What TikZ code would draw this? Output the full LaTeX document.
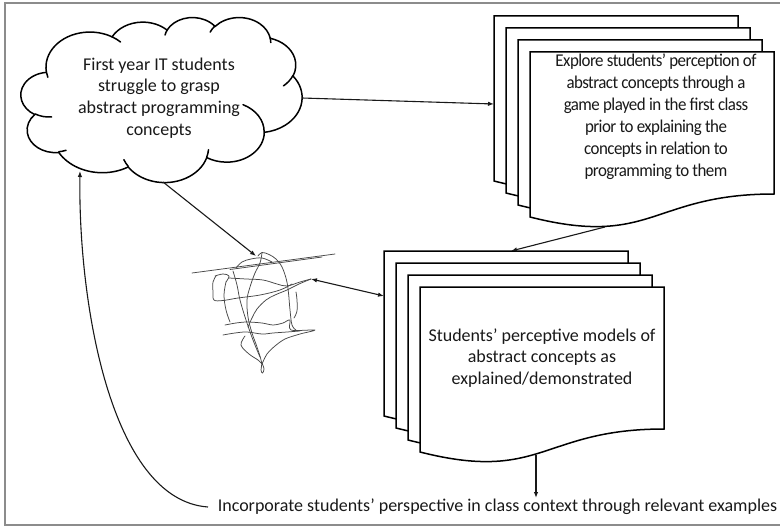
\documentclass[tikz,border=0pt]{standalone}
\usepackage{fontspec}
\setmainfont{Carlito}
\usetikzlibrary{arrows.meta}

% Cloud outline built from elliptic arcs given in tenths of a 43200-unit frame
% (stAng/swAng are angles seen from the ellipse centre, converted to parametric ones).
\newcommand\cldsx{0.065046}
\newcommand\cldsy{0.038194}
\newcommand\cldarc[6]{% #1 start point, #2 name of end point, #3 wR, #4 hR, #5 stAng, #6 swAng
  \pgfmathsetmacro\cldA{atan2((#3)*sin(#5),(#4)*cos(#5))}%
  \pgfmathsetmacro\cldB{atan2((#3)*sin((#5)+(#6)),(#4)*cos((#5)+(#6)))}%
  \pgfmathsetmacro\cldD{mod((\cldB)-(\cldA)+720,360)}%
  \pgfmathsetmacro\cldS{-(\cldA)}%
  \pgfmathsetmacro\cldN{-(\cldD)}%
  \pgfmathsetmacro\cldRX{(#3)*\cldsx}%
  \pgfmathsetmacro\cldRY{(#4)*\cldsy}%
  \draw[cloudline] #1 arc[start angle=\cldS, delta angle=\cldN, x radius=\cldRX pt, y radius=\cldRY pt] coordinate (#2);%
}
% one page of a stacked document: left, top
\newcommand\docpage[2]{%
  \draw[pageline] (#1,#2) -- (#1+244,#2) -- (#1+244,#2+142)
    .. controls (#1+122,#2+142) and (#1+122,#2+196) .. (#1,#2+165) -- cycle;
}

\begin{document}
\begin{tikzpicture}[x=1pt,y=-1pt,
  cloudline/.style={draw=black, line width=1.5pt, line cap=round, line join=round},
  pageline/.style={draw=black, fill=white, line width=1.5pt, line join=miter},
  txt/.style={font=\fontsize{18}{21.7}\selectfont, align=center, inner sep=0pt, text=black!90},
  tighttxt/.style={txt, font=\fontsize{18}{22}\selectfont\addfontfeatures{FakeStretch=0.94,LetterSpace=-3}},
  conn/.style={draw=black!90, line width=1.1pt, -{Latex[length=6pt,width=4.5pt]}},
  conntwo/.style={draw=black!90, line width=1.1pt, {Latex[length=6pt,width=4.5pt]}-{Latex[length=6pt,width=4.5pt]}},
  scribble/.style={draw=black!72, line width=0.75pt, line join=round, line cap=round},
  framegray/.style={draw=black!45, line width=1.2pt}]

\useasboundingbox (0,0) rectangle (780,527);
\draw[framegray] (5,3) rectangle (790,525);

% ---- cloud ----
\coordinate (c0) at (21+390*\cldsx, 17+1437*\cldsy);
\cldarc{(c0)}{c1}{675.3}{919.0}{-190.487}{123.781}
\cldarc{(c1)}{c2}{533.3}{726.7}{-144.102}{89.945}
\cldarc{(c2)}{c3}{436.5}{594.5}{-145.808}{99.723}
\cldarc{(c3)}{c4}{485.7}{659.5}{-130.986}{117.242}
\cldarc{(c4)}{c5}{533.3}{727.3}{-78.709}{109.027}
\cldarc{(c5)}{c6}{677.5}{922.0}{-46.267}{130.269}
\cldarc{(c6)}{c7}{578.5}{786.7}{0.625}{114.033}
\cldarc{(c7)}{c8}{675.2}{921.5}{22.452}{115.173}
\cldarc{(c8)}{c9}{772.0}{1054.3}{66.243}{75.711}
\cldarc{(c9)}{c10}{436.0}{591.8}{-274.942}{146.736}
\cldarc{(c10)}{c11}{434.5}{594.5}{-246.829}{152.519}
% inner creases of the cloud
\cldarc{(21+469.3*\cldsx, 17+2617.7*\cldsy)}{ka}{434.5}{594.5}{86.742}{26.430}
\cldarc{(21+692.8*\cldsx, 17+3489.9*\cldsy)}{kb}{436.0}{591.8}{73.610}{11.447}
\cldarc{(21+1647.8*\cldsx, 17+3909.0*\cldsy)}{kc}{675.2}{921.5}{137.624}{14.081}
\cldarc{(21+2882.7*\cldsx, 17+3475.1*\cldsy)}{kd}{675.2}{921.5}{6.453}{15.998}
\cldarc{(21+3412.9*\cldsx, 17+2295.4*\cldsy)}{ke}{578.5}{786.7}{-70.292}{70.917}
\cldarc{(21+4179.8*\cldsx, 17+1535.4*\cldsy)}{kf}{533.3}{727.3}{30.318}{27.752}
\cldarc{(21+3832.4*\cldsx, 17+542.6*\cldsy)}{kg}{485.7}{659.5}{-13.744}{14.859}
\cldarc{(21+2907.8*\cldsx, 17+395.2*\cldsy)}{kh}{485.7}{659.5}{-149.181}{18.195}
\cldarc{(21+2214.1*\cldsx, 17+472.0*\cldsy)}{ki}{436.5}{594.5}{-163.494}{17.686}
\cldarc{(21+1400.0*\cldsx, 17+519.2*\cldsy)}{kj}{675.3}{919.0}{-66.707}{12.319}
\cldarc{(21+412.7*\cldsx, 17+1578.9*\cldsy)}{kk}{675.3}{919.0}{157.654}{11.858}

\node[txt] (cloudtext) at (159,98)
  {First year IT students\\struggle to grasp\\abstract programming\\concepts};

% ---- upper document stack ----
\docpage{494}{16}
\docpage{506}{28}
\docpage{518}{40}
\docpage{530}{52}
\node[tighttxt] (exploretext) at (656,117)
  {Explore students’ perception of\\abstract concepts through a\\game played in the first class\\prior to explaining the\\concepts in relation to\\programming to them};

% ---- lower document stack ----
\docpage{384}{251}
\docpage{396}{263}
\docpage{408}{275}
\docpage{420}{287}
\node[txt] (modeltext) at (542,358)
  {Students’ perceptive models of\\abstract concepts as\\explained/demonstrated};

% ---- tangle of perceptions ----
\draw[scribble] (192,273) -- (335,254);
\draw[scribble] (230,269.5) -- (322,257);
\draw[scribble] plot[smooth, tension=0.6] coordinates {(258,256) (262,252.5) (269,254.5) (276,259) (282,267) (286.5,280) (288.5,293) (290,310) (292,325) (296,330)};
\draw[scribble] plot[smooth, tension=0.6] coordinates {(262,253) (260,263) (255,273) (250,287) (247,300) (248,317) (252,333) (257,347) (261.5,362) (261,370) (262.5,373) (264,369) (262,363)};
\draw[scribble] plot[smooth, tension=0.6] coordinates {(233,271) (237,285) (240,300) (246,320) (253,340) (260,357)};
\draw[scribble] plot[smooth, tension=0.6] coordinates {(229,278) (246,279) (263,280) (277,284) (287,286) (300,282) (311,279)};
\draw[scribble] plot[smooth, tension=0.6] coordinates {(311,279) (299,284) (287,290) (275,295) (266,300) (257,309) (252,318) (248,327)};
\draw[scribble] plot[smooth, tension=0.6] coordinates {(216,276) (213,282) (213,292) (214,300) (223,300.5) (238,298) (260,295) (280,290) (292,284)};
\draw[scribble] plot[smooth, tension=0.6] coordinates {(215,276) (223,274) (229,276) (226,282)};
\draw[scribble] plot[smooth, tension=0.5] coordinates {(225,325) (236,323) (247,322) (262,323) (273,325) (283,323) (290,320) (291,330) (315,330) (300,334) (285,339) (275,346) (267,354) (262,364)};
\draw[scribble] plot[smooth, tension=0.6] coordinates {(223,335) (235,333) (247,332) (262,334) (273,333) (287,332) (300,331)};
\draw[scribble] plot[smooth, tension=0.6] coordinates {(296,292) (297,300) (297,311) (294,318)};
\draw[scribble] plot[smooth, tension=0.6] coordinates {(236,268) (242,262) (251,259) (262,258) (272,262)};
\draw[scribble] plot[smooth, tension=0.6] coordinates {(245,336) (241,345) (249,354) (258,360) (262,364)};
\draw[scribble] plot[smooth, tension=0.6] coordinates {(226,282) (224,295) (226,310) (230,322)};

% ---- closing statement ----
\node[txt, anchor=base] (inctext) at (497.5,511)
  {Incorporate students’ perspective in class context through relevant examples};

% ---- connection points ----
\coordinate (cloudE) at (302,98);
\coordinate (cloudS) at (163,182);
\coordinate (cloudSW) at (80,171);
\coordinate (upperIn) at (494,104);
\coordinate (upperOut) at (605,227);
\coordinate (lowerIn) at (511,251);
\coordinate (lowerLeft) at (384,296);
\coordinate (lowerOut) at (536,455);
\coordinate (tangleTop) at (256,256);
\coordinate (tangleRight) at (311,279);
\coordinate (incNorth) at (536,498);
\coordinate (incWest) at (208,507);

% ---- connectors ----
\draw[conn] (cloudE) -- (upperIn);
\draw[conn] (cloudS) -- (tangleTop);
\draw[conn] (upperOut) -- (lowerIn);
\draw[conntwo] (tangleRight) -- (lowerLeft);
\draw[conn] (lowerOut) -- (incNorth);
\draw[conn] (incWest) .. controls (110,500) and (78,300) .. (cloudSW);
\end{tikzpicture}
\end{document}
